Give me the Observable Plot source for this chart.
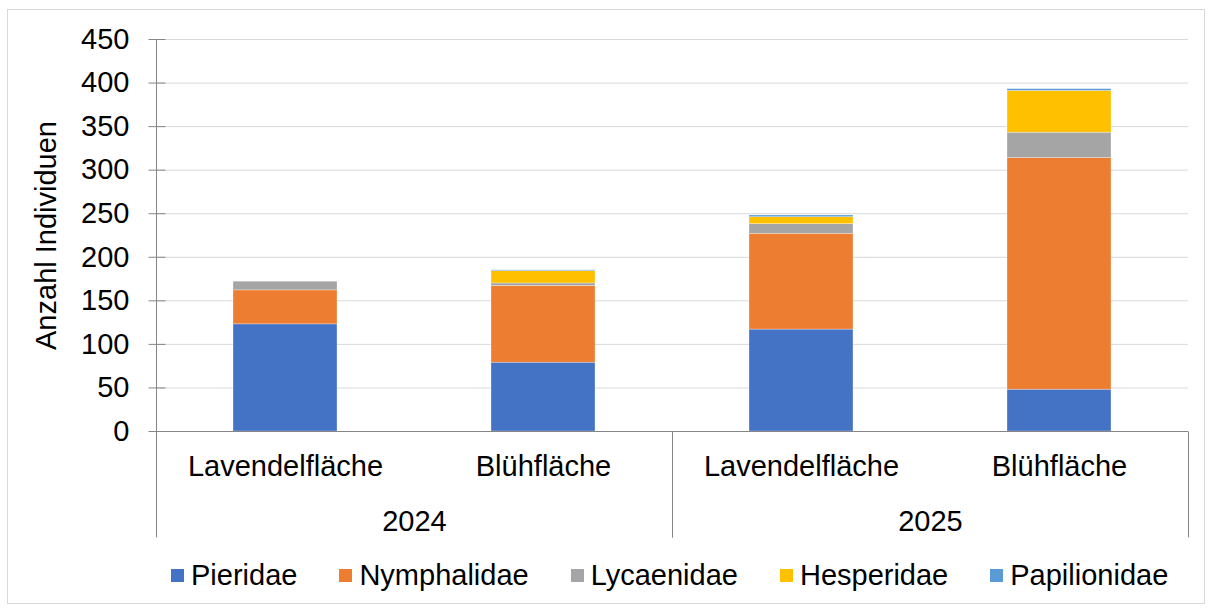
<!DOCTYPE html>
<html><head><meta charset="utf-8">
<script src="https://cdn.jsdelivr.net/npm/d3@7"></script>
<script src="https://cdn.jsdelivr.net/npm/@observablehq/plot@0.6"></script>
<style>
body{margin:0;background:#fff;font-family:"Liberation Sans",Arial,sans-serif;}
#frame{position:absolute;left:7px;top:9px;width:1198px;height:595px;box-sizing:border-box;border:1px solid #d9d9d9;}
#chart{position:absolute;left:0;top:0;}
#legend{position:absolute;left:171px;top:558px;display:flex;align-items:center;height:34px;font-size:29px;line-height:34px;color:#000;white-space:nowrap;}
.item{display:flex;align-items:center;margin-right:42px;}
.sw{width:13px;height:13px;margin-right:7px;}
</style></head><body>
<div id="frame"></div><div id="chart"></div><div id="legend"></div>
<script>
const years = ["2024", "2024", "2025", "2025"];
const sites = ["Lavendelfläche", "Blühfläche", "Lavendelfläche", "Blühfläche"];
const families = ["Pieridae", "Nymphalidae", "Lycaenidae", "Hesperidae", "Papilionidae"];
const pieridae = [123, 79, 117, 48];
const nymphalidae = [39, 88, 110, 266];
const lycaenidae = [10, 3, 11, 29];
const hesperidae = [0, 14, 8, 48];
const papilionidae = [0, 1, 2, 2];
const colors = ["#4472C4", "#ED7D31", "#A5A5A5", "#FFC000", "#5B9BD5"];
const yTicks = [0, 50, 100, 150, 200, 250, 300, 350, 400, 450];
const yTitle = "Anzahl Individuen";

const series = [pieridae, nymphalidae, lycaenidae, hesperidae, papilionidae];
const keys = years.map((y, i) => y + " " + sites[i]);
const data = [];
keys.forEach((k, i) => families.forEach((f, j) => data.push({key: k, family: f, value: series[j][i]})));

function axisDecor(index, scales, values, dims) {
  const sx = scales.x, sy = scales.y;
  const bw = typeof sx.bandwidth === "function" ? sx.bandwidth() : sx.bandwidth;
  const step = sx(keys[1]) - sx(keys[0]);
  const pad = (step - bw) / 2;
  const y0 = sy(0), yTop = sy(yTicks[yTicks.length - 1]);
  const xl = dims.marginLeft;
  const g = d3.create("svg:g").attr("transform", "translate(0.5,0.5)");
  const lines = g.append("g").attr("stroke", "#868686").attr("fill", "none");
  lines.append("line").attr("x1", xl).attr("x2", xl).attr("y1", yTop).attr("y2", y0);
  for (const t of yTicks) {
    lines.append("line").attr("x1", xl - 8).attr("x2", xl + 9).attr("y1", sy(t)).attr("y2", sy(t));
  }
  const groups = d3.groups(keys.map((k, i) => ({k, year: years[i]})), d => d.year);
  groups.forEach(([yr, items]) => {
    const a = sx(items[0].k) - pad;
    const b = sx(items[items.length - 1].k) + bw + pad;
    for (const xv of [a, b]) {
      lines.append("line").attr("x1", xv).attr("x2", xv).attr("y1", y0).attr("y2", y0 + 106);
    }
    g.append("text").attr("x", (a + b) / 2).attr("y", y0 + 99)
      .attr("text-anchor", "middle").attr("fill", "#000")
      .attr("font-size", 29).text(yr);
  });
  return g.node();
}

const chart = Plot.plot({
  width: 1212, height: 546,
  marginLeft: 156, marginRight: 24, marginTop: 39, marginBottom: 115,
  style: {fontFamily: "'Liberation Sans', Arial, sans-serif", fontSize: "29px", color: "#000", background: "transparent", overflow: "visible"},
  x: {domain: keys, paddingInner: 0.597, paddingOuter: 0.2985, axis: null},
  y: {domain: [0, 450], axis: null},
  color: {domain: families, range: colors},
  marks: [
    Plot.gridY(yTicks, {stroke: "#d9d9d9", strokeOpacity: 1}),
    Plot.barY(data, {x: "key", y: "value", fill: "family", order: families, stroke: "#fff", strokeWidth: 0.6, strokeOpacity: 0.5}),
    Plot.ruleY([0], {stroke: "#868686"}),
    Plot.axisY(yTicks, {tickSize: 0, tickPadding: 27, fontSize: 29, label: null}),
    Plot.text(keys, {x: d => d, text: (d, i) => sites[i], frameAnchor: "bottom", lineAnchor: "top", dy: 24, fontSize: 29, fill: "#000"}),
    Plot.text([yTitle], {frameAnchor: "left", textAnchor: "middle", lineAnchor: "middle", rotate: -90, dx: -110, fontSize: 29, fill: "#000"}),
    axisDecor
  ]
});
document.getElementById("chart").append(chart);

const legend = document.getElementById("legend");
families.forEach((f, i) => {
  const item = document.createElement("div");
  item.className = "item";
  const sw = document.createElement("span");
  sw.className = "sw";
  sw.style.background = colors[i];
  const t = document.createElement("span");
  t.textContent = f;
  item.append(sw, t);
  legend.append(item);
});
</script>
</body></html>
